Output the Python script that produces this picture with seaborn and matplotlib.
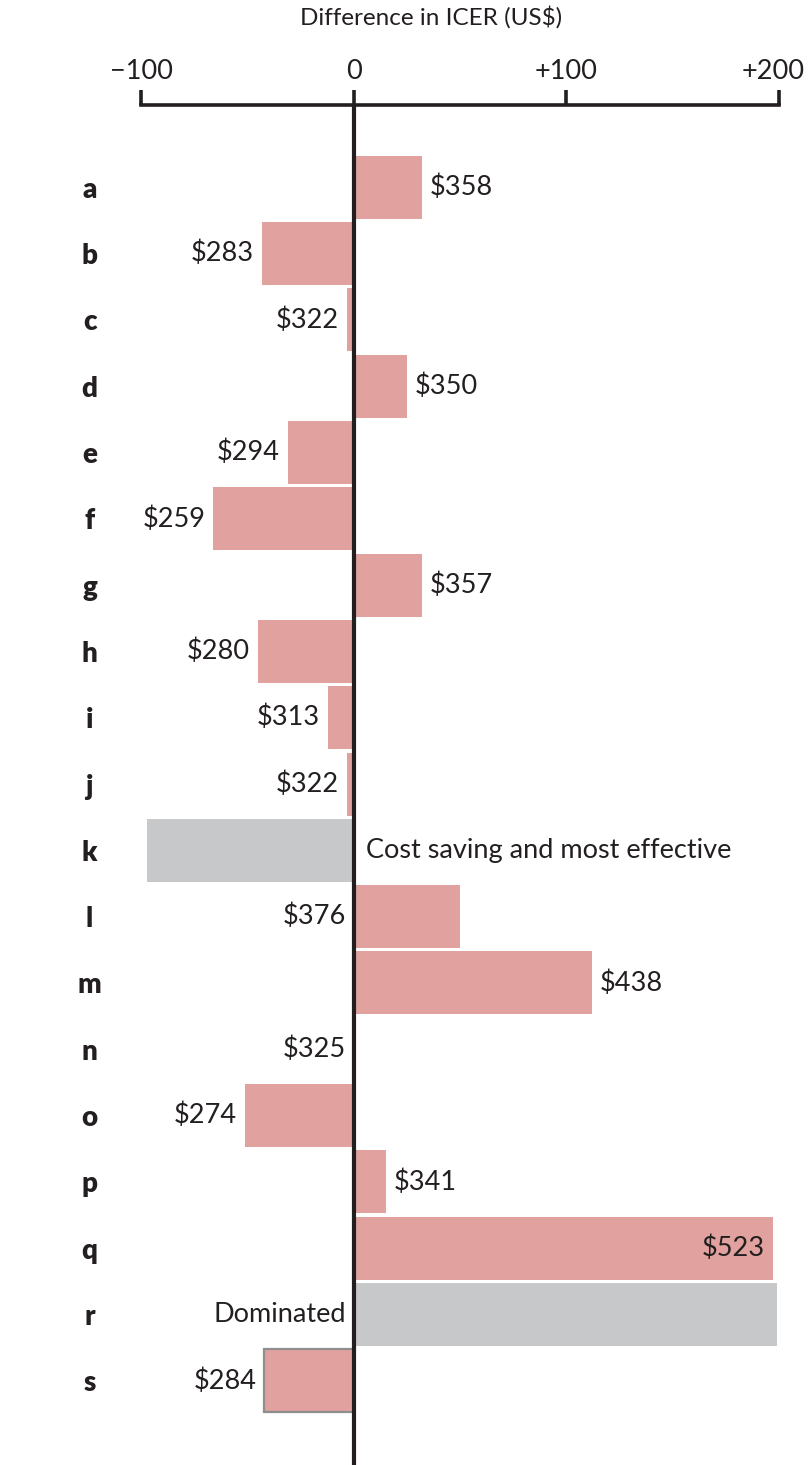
import matplotlib
matplotlib.use('Agg')
import pandas as pd
import seaborn as sns
import matplotlib.pyplot as plt
import matplotlib.transforms as mtransforms

# rows top to bottom
cats = list('abcdefghijklmnopqrs')
diff = [32, -43, -3, 25, -31, -66, 32, -45, -12, -3, -97, 50, 112, 0, -51, 15, 197, 199, -42]
labels = ['$358', '$283', '$322', '$350', '$294', '$259', '$357', '$280', '$313', '$322',
          'Cost saving and most effective', '$376', '$438', '$325', '$274', '$341', '$523',
          'Dominated', '$284']
kind = ['icer'] * 10 + ['other'] + ['icer'] * 6 + ['other'] + ['icer']
# where the label goes: end of bar, inside the bar, or next to the zero line
label_pos = ['end'] * 10 + ['zero_right', 'zero_left', 'end', 'zero_left', 'end', 'end',
                            'inside', 'zero_left', 'end']
xticks = [-100, 0, 100, 200]
xticklabels = ['\u2212100', '0', '+100', '+200']

pink = '#E0A19F'
grey = '#C7C8CA'
ink = '#231F20'

df = pd.DataFrame({'cat': cats, 'diff': diff})
colors = [pink if k == 'icer' else grey for k in kind]

sns.set_style('white')
plt.rcParams['font.family'] = ['Lato', 'DejaVu Sans']

fig = plt.figure(figsize=(8.09, 14.65), dpi=100)
ax = fig.add_axes([141 / 809, 0, (779 - 141) / 809, 1 - 105 / 1465])

sns.barplot(data=df, x='diff', y='cat', hue='cat', palette=colors, orient='h',
            width=0.95, legend=False, ax=ax, saturation=1, edgecolor='none')

# last bar has a grey outline
for c in ax.containers:
    for bar in c:
        bar.set_linewidth(0)
last = ax.containers[-1][0]
last.set_edgecolor('#8E8E8E')
last.set_linewidth(1.6)

ax.set_xlim(-100, 200)
ax.set_ylim(19.27, -1.24)
ax.axvline(0, color=ink, lw=3, zorder=5)

for sp in ['left', 'right', 'bottom']:
    ax.spines[sp].set_visible(False)
ax.spines['top'].set_linewidth(2.6)
ax.spines['top'].set_color(ink)
ax.xaxis.tick_top()
ax.set_xticks(xticks)
ax.set_xticklabels(xticklabels)
ax.tick_params(axis='x', direction='out', length=11, width=2.6, color=ink,
               labelsize=19.5, labelcolor=ink, pad=4)
ax.tick_params(axis='y', length=0, pad=37, labelsize=20, labelcolor=ink)
for t in ax.get_yticklabels():
    t.set_fontweight('heavy')
    t.set_ha('center')
# keep "+200" inside the figure
lab200 = ax.get_xticklabels()[-1]
lab200.set_transform(lab200.get_transform() +
                     mtransforms.ScaledTranslation(-6 / 100, 0, fig.dpi_scale_trans))
ax.set_xlabel('')
ax.set_ylabel('')

off = 8 * 0.72
for i, (v, lab, pos) in enumerate(zip(diff, labels, label_pos)):
    if pos == 'end':
        x, dx, ha = v, (off if v >= 0 else -off), ('left' if v >= 0 else 'right')
    elif pos == 'inside':
        x, dx, ha = v, -off, 'right'
    elif pos == 'zero_left':
        x, dx, ha = 0, -off, 'right'
    else:
        x, dx, ha = 0, 12 * 0.72, 'left'
    ax.annotate(lab, (x, i), xytext=(dx, 0), textcoords='offset points',
                ha=ha, va='center', fontsize=19.5, color=ink, zorder=6)

fig.text(431 / 809, 1 - 17 / 1465, 'Difference in ICER (US$)', ha='center', va='center',
         fontsize=17.5, color=ink)

fig.savefig('out.png', dpi=100)
